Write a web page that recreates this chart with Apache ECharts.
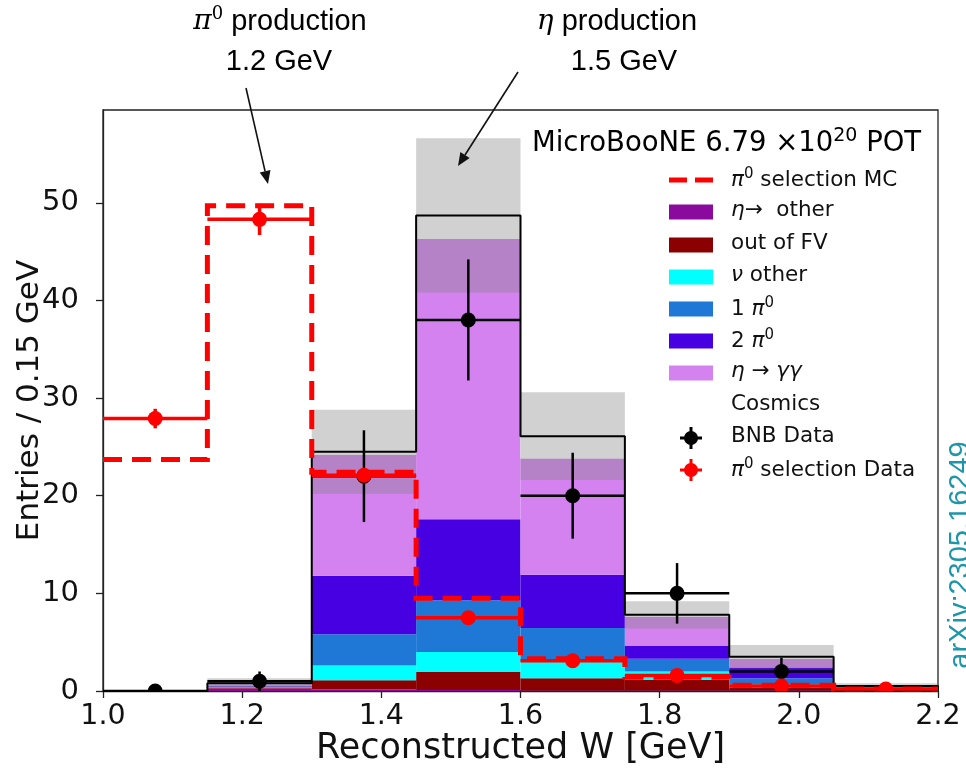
<!DOCTYPE html>
<html>
<head>
<meta charset="utf-8">
<script src="https://cdn.jsdelivr.net/npm/echarts@6/dist/echarts.min.js"></script>
<style>
  html, body { margin: 0; padding: 0; background: #ffffff; }
  #chart { width: 966px; height: 773px; }
</style>
</head>
<body>
<div id="chart"></div>
<script>
// Binning of the reconstructed invariant mass W [GeV]
const binEdges = [1.0, 1.15, 1.3, 1.45, 1.6, 1.75, 1.9, 2.05, 2.2];
const xTicks = [1.0, 1.2, 1.4, 1.6, 1.8, 2.0, 2.2];
const yTicks = [0, 10, 20, 30, 40, 50];

// Stacked MC predictions per bin (bottom to top)
const etaOther = [0, 0.25, 0.15, 0.10, 0.05, 0.05, 0.05, 0.05];
const outOfFV  = [0, 0.05, 0.95, 1.85, 1.25, 1.10, 0.30, 0.10];
const nuOther  = [0, 0.05, 1.50, 2.05, 1.70, 0.85, 0.35, 0.05];
const onePi0   = [0, 0.10, 3.20, 5.30, 3.45, 1.30, 0.60, 0.05];
const twoPi0   = [0, 0.10, 6.00, 8.30, 5.45, 1.30, 1.10, 0.10];
const etaGG    = [0, 0.15, 12.40, 28.70, 11.90, 3.00, 0.90, 0.10];
const cosmics  = [0, 0.10, 0.30, 2.40, 2.30, 0.20, 0.20, 0.05];

// Uncertainty on the total MC prediction
const mcErr = [0, 0.5, 4.3, 7.9, 4.5, 1.4, 1.2, 0.3];

// BNB data
const bnbData = [0, 1.0, 22.0, 38.0, 20.0, 10.0, 2.0, 0];
const bnbErr  = [0, 1.0, 4.7, 6.2, 4.4, 3.1, 1.4, 0];

// pi0 selection (scaled) data and MC
const pi0SelData = [27.9, 48.3, 22.1, 7.5, 3.1, 1.6, 0.5, 0.2];
const pi0SelErr  = [1.0, 1.6, 0.5, 0.3, 0.25, 0.2, 0.15, 0.1];
const pi0SelMC   = [23.7, 49.7, 22.4, 9.5, 3.3, 1.4, 0.6, 0.2];

const layers = [
  { name: 'eta other', values: etaOther, color: '#8a0a9e' },
  { name: 'out of FV', values: outOfFV,  color: '#8b0000' },
  { name: 'nu other',  values: nuOther,  color: '#00ffff' },
  { name: '1 pi0',     values: onePi0,   color: '#1f78d6' },
  { name: '2 pi0',     values: twoPi0,   color: '#4600e2' },
  { name: 'eta gg',    values: etaGG,    color: '#d482ef' },
  { name: 'Cosmics',   values: cosmics,  color: '#ffffff' }
];

const chart = echarts.init(document.getElementById('chart'), null, { renderer: 'canvas' });

function rectSeries(name, lows, highs, fill, z) {
  const data = lows.map((lo, i) => [binEdges[i], binEdges[i + 1], lo, highs[i]]);
  return {
    type: 'custom', name, data, clip: true, z, silent: true,
    encode: { x: [0, 1], y: [2, 3] },
    renderItem: (params, api) => {
      const a = api.coord([api.value(0), api.value(3)]);
      const b = api.coord([api.value(1), api.value(2)]);
      return {
        type: 'rect',
        shape: { x: a[0], y: a[1], width: b[0] - a[0], height: b[1] - a[1] },
        style: { fill }
      };
    }
  };
}

function stepPoints(vals, dropToZero) {
  const pts = [];
  if (dropToZero) pts.push([binEdges[0], 0]);
  vals.forEach((v, i) => { pts.push([binEdges[i], v]); pts.push([binEdges[i + 1], v]); });
  if (dropToZero) pts.push([binEdges[binEdges.length - 1], 0]);
  return pts;
}

function pointSeries(name, vals, errs, color, lw, r, z) {
  const data = vals.map((v, i) => [binEdges[i], binEdges[i + 1], v, errs[i]]);
  return {
    type: 'custom', name, data, clip: true, z, silent: true,
    encode: { x: [0, 1], y: 2 },
    renderItem: (params, api) => {
      const lo = api.value(0), hi = api.value(1), v = api.value(2), e = api.value(3);
      const c = (lo + hi) / 2;
      const L = api.coord([lo, v]), R = api.coord([hi, v]);
      const T = api.coord([c, v + e]), B = api.coord([c, v - e]);
      const M = api.coord([c, v]);
      return {
        type: 'group',
        children: [
          { type: 'line', shape: { x1: L[0], y1: L[1], x2: R[0], y2: R[1] }, style: { stroke: color, lineWidth: lw } },
          { type: 'line', shape: { x1: T[0], y1: T[1], x2: B[0], y2: B[1] }, style: { stroke: color, lineWidth: lw } },
          { type: 'circle', shape: { cx: M[0], cy: M[1], r }, style: { fill: color } }
        ]
      };
    }
  };
}

// cumulative stack
const series = [];
let base = binEdges.slice(0, -1).map(() => 0);
layers.forEach(layer => {
  const top = base.map((b, i) => b + layer.values[i]);
  series.push(rectSeries(layer.name, base, top, layer.color, 2));
  base = top;
});
const mcTotal = base;

// uncertainty band
series.push(rectSeries('MC uncertainty',
  mcTotal.map((t, i) => t - mcErr[i]),
  mcTotal.map((t, i) => t + mcErr[i]),
  'rgba(128,128,128,0.36)', 3));

// total MC outline
series.push({
  type: 'line', name: 'MC total', data: stepPoints(mcTotal, true),
  symbol: 'none', z: 4, silent: true, clip: true,
  lineStyle: { color: '#000000', width: 2 }
});

// pi0 selection MC (dashed)
series.push({
  type: 'line', name: 'pi0 selection MC', data: stepPoints(pi0SelMC, false),
  symbol: 'none', z: 5, silent: true, clip: true,
  lineStyle: { color: '#ff0000', width: 5, type: [19, 10], cap: 'butt', join: 'miter' }
});

series.push(pointSeries('BNB Data', bnbData, bnbErr, '#000000', 2.5, 7.5, 6));
series.push(pointSeries('pi0 selection Data', pi0SelData, pi0SelErr, '#ff0000', 3.5, 7.5, 7));

// ---- text, legend and annotation graphics ----
const mathFont = 'DejaVu Sans';
const legendRows = [180, 212, 245, 277, 309, 341, 373, 406, 438, 470];
const patchX = 669, patchW = 44, patchH = 15, textX = 731;
const legFont = 21.5;

const richLegend = {
  t: { fontFamily: 'DejaVu Sans', fontSize: legFont, color: '#111', lineHeight: 26, verticalAlign: 'middle' },
  m: { fontFamily: mathFont, fontStyle: 'italic', fontSize: legFont, color: '#111', lineHeight: 26, verticalAlign: 'middle' },
  s: { fontFamily: 'DejaVu Sans', fontSize: 15, color: '#111', lineHeight: 26, verticalAlign: 'top' }
};

function legendText(y, text) {
  return {
    type: 'text', left: textX, top: y - 13, z: 20,
    style: { text, rich: richLegend, fontSize: legFont, fontFamily: 'DejaVu Sans', fill: '#111' }
  };
}

const legendEntries = [
  { kind: 'dash', color: '#ff0000', text: '{m|π}{s|0}{t| selection MC}' },
  { kind: 'patch', color: layers[0].color, text: '{m|η}{t|→  other}' },
  { kind: 'patch', color: layers[1].color, text: '{t|out of FV}' },
  { kind: 'patch', color: layers[2].color, text: '{m|ν}{t| other}' },
  { kind: 'patch', color: layers[3].color, text: '{t|1 }{m|π}{s|0}' },
  { kind: 'patch', color: layers[4].color, text: '{t|2 }{m|π}{s|0}' },
  { kind: 'patch', color: layers[5].color, text: '{m|η}{t| → }{m|γγ}' },
  { kind: 'none', color: '#ffffff', text: '{t|Cosmics}' },
  { kind: 'point', color: '#000000', text: '{t|BNB Data}' },
  { kind: 'point', color: '#ff0000', text: '{m|π}{s|0}{t| selection Data}' }
];

const graphics = [];
legendEntries.forEach((e, i) => {
  const y = legendRows[i];
  if (e.kind === 'patch') {
    graphics.push({ type: 'rect', z: 20, shape: { x: patchX, y: y - patchH / 2, width: patchW, height: patchH }, style: { fill: e.color } });
  } else if (e.kind === 'dash') {
    graphics.push({ type: 'rect', z: 20, shape: { x: patchX, y: y - 2.5, width: 18, height: 5 }, style: { fill: e.color } });
    graphics.push({ type: 'rect', z: 20, shape: { x: patchX + 26, y: y - 2.5, width: 18, height: 5 }, style: { fill: e.color } });
  } else if (e.kind === 'point') {
    const cx = patchX + patchW / 2;
    graphics.push({ type: 'line', z: 20, shape: { x1: cx - 11, y1: y, x2: cx + 11, y2: y }, style: { stroke: e.color, lineWidth: 3 } });
    graphics.push({ type: 'line', z: 20, shape: { x1: cx, y1: y - 11, x2: cx, y2: y + 11 }, style: { stroke: e.color, lineWidth: 3 } });
    graphics.push({ type: 'circle', z: 20, shape: { cx, cy: y, r: 7 }, style: { fill: e.color } });
  }
  graphics.push(legendText(y, e.text));
});

// experiment / exposure label
graphics.push({
  type: 'text', left: 532, top: 127, z: 20,
  style: {
    text: '{t|MicroBooNE 6.79 ×10}{s|20}{t| POT}',
    rich: {
      t: { fontFamily: 'DejaVu Sans', fontSize: 27.5, color: '#111', lineHeight: 33, verticalAlign: 'middle' },
      s: { fontFamily: 'DejaVu Sans', fontSize: 19, color: '#111', lineHeight: 33, verticalAlign: 'top' }
    }
  }
});

// annotations above the frame
const annRich = {
  t: { fontFamily: 'Liberation Sans', fontSize: 29, color: '#111', lineHeight: 34, verticalAlign: 'middle' },
  m: { fontFamily: 'DejaVu Serif', fontStyle: 'italic', fontSize: 28, color: '#111', lineHeight: 34, verticalAlign: 'middle' },
  s: { fontFamily: 'DejaVu Serif', fontSize: 18, color: '#111', lineHeight: 34, verticalAlign: 'top' }
};
function annText(cx, cy, text) {
  return { type: 'text', x: cx, y: cy, z: 20,
    style: { text, rich: annRich, align: 'center', verticalAlign: 'middle', fontSize: 29, fontFamily: 'Liberation Sans' } };
}
graphics.push(annText(280, 22, '{m|π}{s|0}{t| production}'));
graphics.push(annText(279, 62, '{t|1.2 GeV}'));
graphics.push(annText(617, 22, '{m|η}{t| production}'));
graphics.push(annText(624, 62, '{t|1.5 GeV}'));

function arrow(x1, y1, x2, y2) {
  const ang = Math.atan2(y2 - y1, x2 - x1);
  const hl = 13, hw = 5.5;
  const bx = x2 - hl * Math.cos(ang), by = y2 - hl * Math.sin(ang);
  const nx = -Math.sin(ang), ny = Math.cos(ang);
  graphics.push({ type: 'line', z: 20, shape: { x1, y1, x2: bx, y2: by }, style: { stroke: '#111', lineWidth: 1.6 } });
  graphics.push({ type: 'polygon', z: 20, shape: { points: [[x2, y2], [bx + nx * hw, by + ny * hw], [bx - nx * hw, by - ny * hw]] }, style: { fill: '#111' } });
}
arrow(246, 88, 268, 184);
arrow(518, 72, 458, 166);

// arXiv reference along the right edge
graphics.push({
  type: 'text', x: 961, y: 555, rotation: Math.PI / 2, z: 20,
  style: { text: 'arXiv:2305.16249', fontFamily: 'Liberation Sans', fontSize: 29, fill: '#1e96aa', align: 'center', verticalAlign: 'middle' }
});

const axisFont = 'DejaVu Sans';
chart.setOption({
  animation: false,
  backgroundColor: '#ffffff',
  grid: {
    left: 103, right: 28, top: 110, bottom: 82,
    outerBoundsMode: 'none', containLabel: false,
    show: true, borderColor: '#222', borderWidth: 1.3, backgroundColor: 'transparent'
  },
  xAxis: {
    type: 'value', min: 1.0, max: 2.2, interval: 0.2,
    name: 'Reconstructed W [GeV]', nameLocation: 'middle', nameGap: 40, nameMoveOverlap: false,
    nameTextStyle: { fontFamily: axisFont, fontSize: 35, color: '#111', verticalAlign: 'top' },
    axisLine: { show: true, lineStyle: { color: '#222', width: 1.3 } },
    axisTick: { show: true, inside: false, length: 7, lineStyle: { color: '#222', width: 1.3 }, customValues: xTicks },
    axisLabel: { fontFamily: axisFont, fontSize: 28.5, color: '#111', margin: 11, customValues: xTicks, formatter: v => v.toFixed(1) },
    splitLine: { show: false }
  },
  yAxis: {
    type: 'value', min: 0, max: 59.5, interval: 10,
    name: 'Entries / 0.15 GeV', nameLocation: 'middle', nameGap: 58, nameRotate: 90, nameMoveOverlap: false,
    nameTextStyle: { fontFamily: axisFont, fontSize: 31, color: '#111' },
    axisLine: { show: true, lineStyle: { color: '#222', width: 1.3 } },
    axisTick: { show: true, inside: false, length: 7, lineStyle: { color: '#222', width: 1.3 }, customValues: yTicks },
    axisLabel: { fontFamily: axisFont, fontSize: 29, color: '#111', margin: 24, customValues: yTicks },
    splitLine: { show: false }
  },
  series,
  graphic: graphics
});
</script>
</body>
</html>
